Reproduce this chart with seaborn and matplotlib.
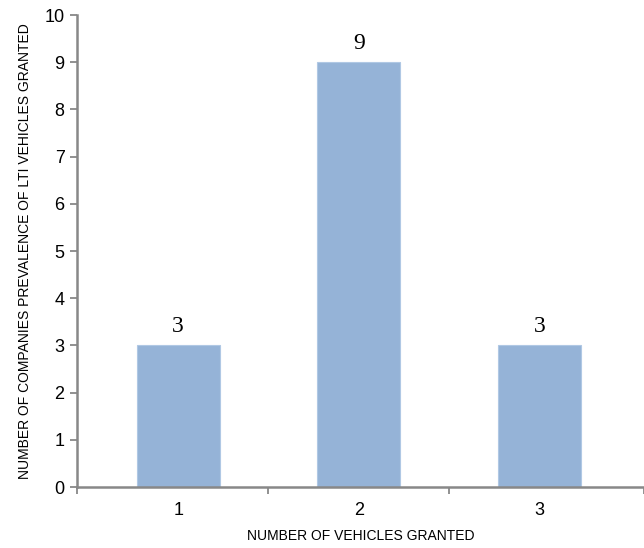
import matplotlib
matplotlib.use("Agg")
import matplotlib.pyplot as plt
import seaborn as sns
import pandas as pd

categories = ["1", "2", "3"]
counts = [3, 9, 3]
y_ticks = list(range(0, 11))

sns.set_style("white")
plt.rcParams["font.family"] = ["Liberation Sans", "DejaVu Sans"]
plt.rcParams["text.color"] = "black"
plt.rcParams["axes.labelcolor"] = "black"
plt.rcParams["xtick.color"] = "black"
plt.rcParams["ytick.color"] = "black"

df = pd.DataFrame({"vehicles": categories, "companies": counts})

fig = plt.figure(figsize=(6.44, 5.48), dpi=100)
ax = fig.add_axes([0.1196, 0.1113, 0.8804, 0.8613])

sns.barplot(data=df, x="vehicles", y="companies", color="#95B3D7",
            saturation=1, width=0.46, edgecolor="#B0C8E4", linewidth=0.8, ax=ax)

x_lo, x_hi = -0.56, 2.58
ax.set_ylim(0, 10)
ax.set_xlim(x_lo, x_hi)
ax.set_yticks(y_ticks)
ax.set_yticklabels([str(v) for v in y_ticks], fontsize=13)
ax.tick_params(axis="x", which="major", labelsize=13, length=0, pad=11)
ax.tick_params(axis="y", length=5, width=1.3, color="#888888", direction="out", pad=4, left=True)

# category boundary ticks on the x axis
ax.set_xticks([x_lo, 0.5, 1.5, x_hi], minor=True)
ax.tick_params(axis="x", which="minor", length=5, width=1.3, color="#888888",
               direction="out", bottom=True)

for side in ["top", "right"]:
    ax.spines[side].set_visible(False)
for side in ["left", "bottom"]:
    ax.spines[side].set_color("#888888")
    ax.spines[side].set_linewidth(1.8)

for i, v in enumerate(counts):
    ax.text(i, v + 0.18, str(v), ha="center", va="bottom", fontsize=17,
            family=["Liberation Serif", "DejaVu Serif"])

ax.set_xlabel("NUMBER OF VEHICLES GRANTED", fontsize=10, labelpad=7)
ax.set_ylabel("NUMBER OF COMPANIES PREVALENCE OF LTI VEHICLES GRANTED",
              fontsize=10, labelpad=9)

fig.savefig("out.png", dpi=100, facecolor="white")
